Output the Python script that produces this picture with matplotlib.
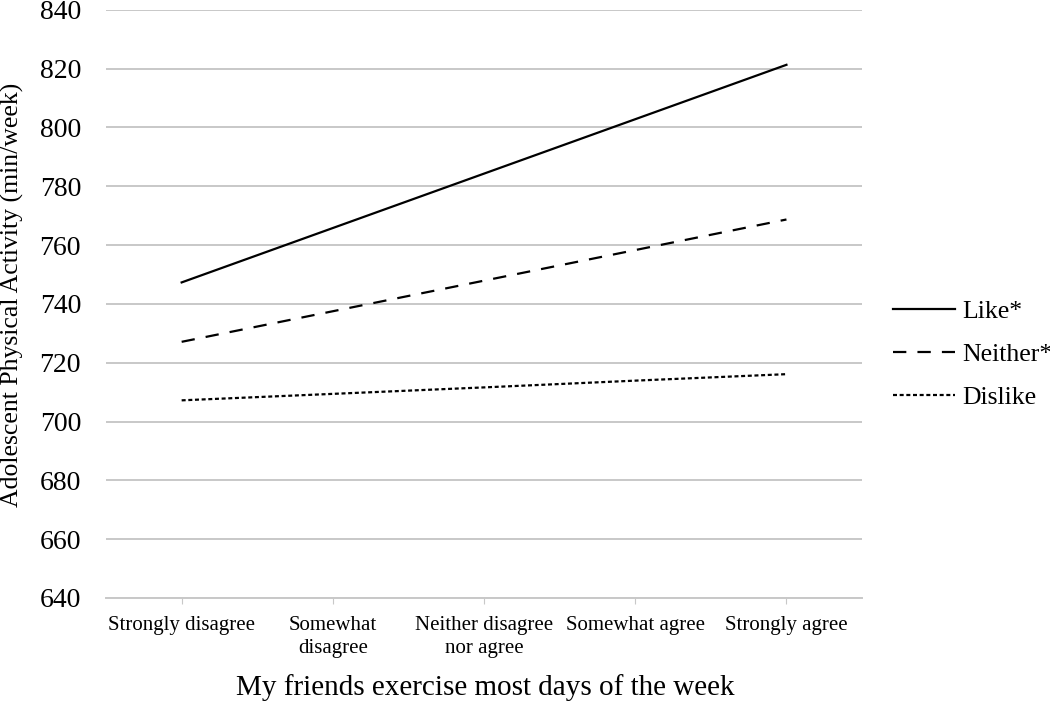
import matplotlib
matplotlib.use("Agg")
import matplotlib.pyplot as plt

categories = ["Strongly disagree", "Somewhat\ndisagree", "Neither disagree\nnor agree",
              "Somewhat agree", "Strongly agree"]
like = [747.3, 765.8, 784.3, 802.8, 821.3]
neither = [727.1, 737.5, 747.9, 758.3, 768.7]
dislike = [707.2, 709.4, 711.6, 713.9, 716.1]

plt.rcParams['font.family'] = ['Liberation Serif', 'DejaVu Serif']

fig = plt.figure(figsize=(10.5, 7.01), dpi=100)
ax = fig.add_axes([0.101, 0.147, 0.720, 0.839])

x = list(range(len(categories)))
ax.plot(x, like, color='black', lw=1.6, label='Like*')
l2, = ax.plot(x, neither, color='black', lw=1.6, label='Neither*')
l2.set_dashes((6, 5))
l3, = ax.plot(x, dislike, color='black', lw=1.6, label='Dislike')
l3.set_dashes((1.8, 1.2))

ax.set_xlim(-0.5, 4.5)
ax.set_ylim(640, 840)
ax.set_yticks(range(640, 841, 20))
ax.set_xticks(x)
ax.set_xticklabels(categories, fontsize=15, linespacing=1.3)
ax.tick_params(axis='y', length=0, labelsize=20, pad=18)
ax.tick_params(axis='x', length=4, color='#c8c8c8', labelsize=15, pad=9)
ax.grid(axis='y', color='#c8c8c8', lw=1.4)
ax.set_axisbelow(True)
for s in ['top', 'right', 'left']:
    ax.spines[s].set_visible(False)
ax.spines['bottom'].set_color('#c8c8c8')
ax.spines['bottom'].set_linewidth(1.4)

fig.text(12 / 1050, 1 - 295 / 701, 'Adolescent Physical Activity (min/week)',
         rotation=90, ha='center', va='center', fontsize=18.5)
fig.text(485 / 1050, 1 - 688 / 701, 'My friends exercise most days of the week',
         ha='center', va='center', fontsize=21)

ax.legend(loc='upper left', bbox_to_anchor=(893 / 1050, 1 - 300 / 701),
          bbox_transform=fig.transFigure, frameon=False, borderpad=0, borderaxespad=0,
          fontsize=18.5, handlelength=2.4, handletextpad=0.28, labelspacing=0.78)

fig.savefig('out.png', dpi=100)
